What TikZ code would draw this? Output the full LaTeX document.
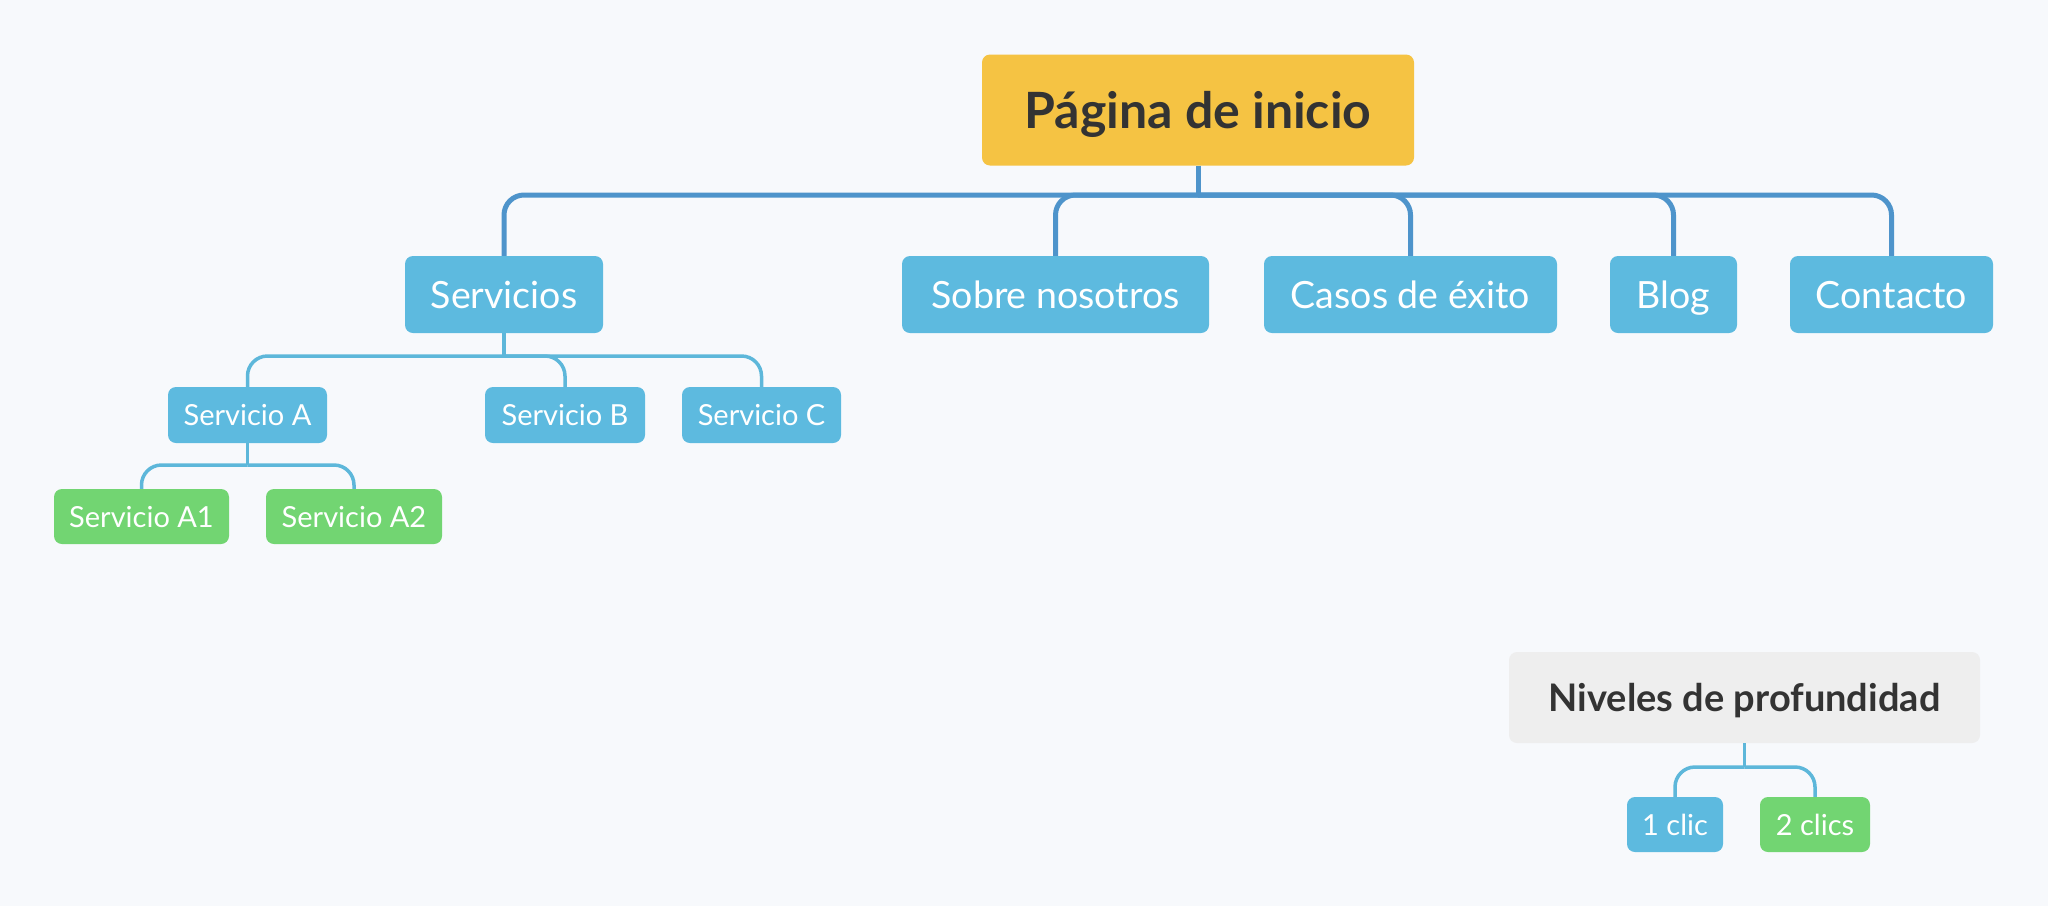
\documentclass[tikz,border=0pt]{standalone}
\usepackage{fontspec}
\setmainfont{Lato}
\definecolor{bg}{HTML}{F7F9FC}
\definecolor{rootfill}{HTML}{F5C343}
\definecolor{bluefill}{HTML}{5DBADF}
\definecolor{greenfill}{HTML}{72D572}
\definecolor{grayfill}{HTML}{EEEEEE}
\definecolor{darktext}{HTML}{333333}
\definecolor{mainline}{HTML}{4E94CB}
\definecolor{subline}{HTML}{5DB7DA}
\begin{document}
\begin{tikzpicture}[x=1pt,y=-1pt,
  box/.style={rounded corners=8pt, inner sep=0pt, align=center, text depth=0pt},
  rootbox/.style={box, fill=rootfill, text=darktext, font=\fontsize{50}{60}\selectfont\bfseries, text height=36pt},
  lvlone/.style={box, fill=bluefill, text=white, font=\fontsize{37.5}{45}\selectfont, minimum height=77pt, text height=27pt},
  lvltwo/.style={box, fill=bluefill, text=white, font=\fontsize{29}{35}\selectfont, minimum height=56pt, text height=21pt},
  lvlthree/.style={box, fill=greenfill, text=white, font=\fontsize{29}{35}\selectfont, minimum height=55pt, text height=21pt},
  legtitle/.style={box, fill=grayfill, text=darktext, font=\fontsize{38}{46}\selectfont\bfseries, text height=27.5pt},
  mainconn/.style={draw=mainline, line width=5pt, rounded corners=20pt},
  subconn/.style={draw=subline, line width=3.5pt, rounded corners=20pt},
  stemmain/.style={draw=mainline, line width=5pt},
  stemsub/.style={draw=subline, line width=3.5pt}
]
\fill[bg] (0,0) rectangle (2048,906);
\useasboundingbox (0,0) rectangle (2048,906);

% root
\node[rootbox, minimum width=432pt, minimum height=111pt] (root) at (1198,110) {Página de inicio};

% level 1
\node[lvlone, minimum width=198pt] (serv) at (504,294.5) {Servicios};
\node[lvlone, minimum width=307pt] (sobre) at (1055.5,294.5) {Sobre nosotros};
\node[lvlone, minimum width=293pt] (casos) at (1410.5,294.5) {Casos de éxito};
\node[lvlone, minimum width=127pt] (blog) at (1673.5,294.5) {Blog};
\node[lvlone, minimum width=203pt] (cont) at (1891.5,294.5) {Contacto};

% level 2
\node[lvltwo, minimum width=159pt] (sa) at (247.5,415) {Servicio A};
\node[lvltwo, minimum width=160pt] (sb) at (565,415) {Servicio B};
\node[lvltwo, minimum width=159pt] (sc) at (761.5,415) {Servicio C};

% level 3
\node[lvlthree, minimum width=175pt] (sa1) at (141.5,516.5) {Servicio A1};
\node[lvlthree, minimum width=176pt] (sa2) at (354,516.5) {Servicio A2};

% legend
\node[legtitle, minimum width=471pt, minimum height=91pt] (leg) at (1744.5,697.5) {Niveles de profundidad};
\node[lvltwo, minimum width=96pt, minimum height=55pt] (one) at (1675,824.5) {1 clic};
\node[lvlthree, minimum width=110pt] (two) at (1815,824.5) {2 clics};

% bus coordinates
\coordinate (rb) at (root.south |- 0,195);
\coordinate (sbus) at (serv.south |- 0,356);
\coordinate (abus) at (sa.south |- 0,465);
\coordinate (lbus) at (leg.south |- 0,767);

% root connectors
\draw[stemmain] (root.south) -- (rb);
\foreach \c in {serv,sobre,casos,blog,cont}{
  \draw[mainconn] (rb) -| (\c.north);
}

% servicios connectors
\draw[stemsub] (serv.south) -- (sbus);
\foreach \c in {sa,sb,sc}{
  \draw[subconn] (sbus) -| (\c.north);
}

% servicio A connectors
\draw[stemsub] (sa.south) -- (abus);
\foreach \c in {sa1,sa2}{
  \draw[subconn] (abus) -| (\c.north);
}

% legend connectors
\draw[stemsub] (leg.south) -- (lbus);
\foreach \c in {one,two}{
  \draw[subconn] (lbus) -| (\c.north);
}
\end{tikzpicture}
\end{document}
